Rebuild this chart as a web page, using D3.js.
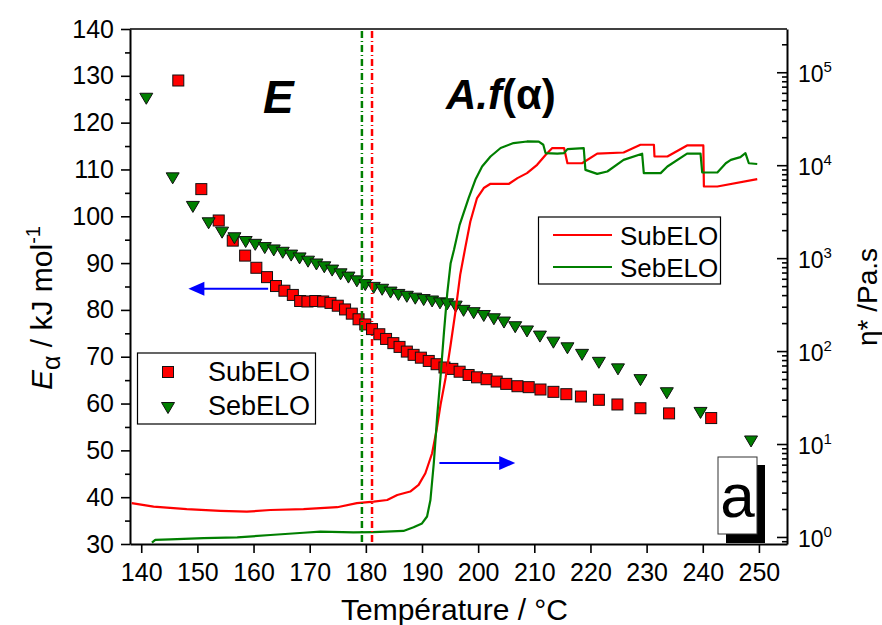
<!DOCTYPE html>
<html><head><meta charset="utf-8">
<script src="https://cdn.jsdelivr.net/npm/d3@7"></script>
<style>body{margin:0;background:#fff}svg{display:block;font-family:Arial,"Liberation Sans",sans-serif}</style>
</head><body><svg id="c" width="882" height="625"></svg>
<script>
// ---- data ----
const seriesNames = ["SubELO", "SebELO"];
const subTemp = [146.6,150.7,153.8,156.3,158.5,160.5,162.4,164.0,165.5,167.0,168.3,169.6,171.0,172.4,173.7,175.0,176.3,177.5,178.7,179.9,181.1,182.4,183.6,184.9,186.0,187.3,188.5,189.8,191.2,192.6,194.0,195.4,196.7,198.3,199.8,201.5,203.3,205.0,207.0,209.0,211.1,213.4,215.7,218.3,221.5,224.8,228.9,234.0,241.5];
const subE = [129.0,105.8,99.1,94.8,91.6,89.0,87.0,85.1,84.1,83.2,81.9,81.8,81.9,81.8,81.5,80.9,80.1,79.2,78.0,76.9,75.9,74.8,73.8,72.9,72.1,71.1,70.4,69.8,69.1,68.4,67.7,67.4,66.8,66.1,65.6,65.2,64.7,64.2,63.7,63.5,63.0,62.5,62.0,61.5,60.8,59.8,59.0,57.9,56.9];
const sebTemp = [140.9,145.6,149.2,152.0,154.4,156.6,158.6,160.3,162.0,163.6,165.2,166.7,168.2,169.7,171.2,172.6,174.0,175.5,176.9,178.4,179.9,181.4,182.9,184.4,185.8,187.3,188.8,190.3,191.8,193.2,194.5,196.0,197.4,199.2,201.0,202.8,204.6,206.6,208.7,211.0,213.4,215.9,218.5,221.5,224.9,228.9,233.6,239.6,248.6];
const sebE = [125.1,108.1,102.0,98.5,96.5,95.3,94.5,93.9,93.2,92.7,92.2,91.6,91.0,90.3,89.7,89.1,88.4,87.6,86.9,86.1,85.3,84.7,84.3,83.7,83.2,82.8,82.4,82.1,81.8,81.4,81.2,80.7,79.8,79.3,78.7,78.0,77.3,76.3,75.4,74.3,73.0,71.8,70.4,68.7,67.3,65.0,62.2,58.0,51.9];
const subViscT = [138.3,142.2,148.1,154.1,158.8,163.0,168.9,174.9,178.4,181.4,183.8,185.6,187.9,189.4,190.6,191.8,192.6,193.3,194.2,195.1,196.0,196.8,197.7,198.6,199.8,201.0,202.2,205.5,207.0,208.7,210.5,212.0,213.2,215.3,215.9,218.5,221.2,225.9,228.9,231.3,231.4,233.7,237.2,240.1,240.2,242.6,249.7];
const subVisc = [2.31,2.12,1.99,1.91,1.87,1.95,1.99,2.09,2.31,2.40,2.50,2.83,3.08,3.63,4.85,7.96,14.2,26.4,51.4,117,277,661,1290,2460,4430,5680,6310,6310,7260,8220,10100,12900,15300,15300,10500,10500,13300,13700,16600,16600,12400,12400,16300,16300,5900,5900,7080];
const sebViscT = [141.9,142.5,145.2,151.1,157.1,163.0,168.9,171.9,177.8,181.4,186.7,188.5,190.0,190.9,191.5,192.1,192.7,193.3,193.9,194.5,195.1,195.7,196.7,198.3,199.5,200.7,202.2,204.0,206.3,208.7,210.8,211.6,212.0,214.1,215.3,215.9,218.8,219.1,221.2,223.0,225.9,229.2,229.5,232.5,233.7,237.2,239.6,239.9,242.6,244.1,245.0,246.7,247.6,248.2,249.7];
const sebVisc = [0.87,0.93,0.94,0.97,0.99,1.05,1.11,1.14,1.12,1.13,1.16,1.27,1.40,1.66,2.50,6.21,19.7,53.2,156,420,883,1230,2280,4430,6970,9680,12400,15300,17300,18000,17900,16600,13500,13300,13500,14900,15300,8910,8070,8550,11400,13300,8220,8220,9680,13300,13300,8340,8340,10500,11400,12200,13500,10500,10300];
const markerTemps = [179.3, 181.1]; // SebELO (green), SubELO (red) dashed lines
const xTicks = [140,150,160,170,180,190,200,210,220,230,240,250];
const yTicks = [30,40,50,60,70,80,90,100,110,120,130,140];
const yMinorTicks = [35,45,55,65,75,85,95,105,115,125,135];
const y2Exponents = [0,1,2,3,4,5];

// ---- layout ----
const L = 130, R = 787, T = 29, B = 544;
const RED = "#ff0000", GREEN = "#007f00", BLUE = "#0000ff";
const svg = d3.select("#c");
const x = d3.scaleLinear().domain([138, 255]).range([L, R]);
const y = d3.scaleLinear().domain([30, 140]).range([B, T]);
const y2 = d3.scaleLog().domain([0.84, 2.92e5]).range([B, T]);

// frame
svg.append("line").attr("x1", L).attr("x2", R).attr("y1", T).attr("y2", T).attr("stroke", "#000").attr("stroke-width", 1.3);

// left axis
const gL = svg.append("g").attr("transform", `translate(${L},0)`)
  .call(d3.axisLeft(y).tickValues(yTicks).tickSize(9).tickPadding(7).tickSizeOuter(0));
svg.append("g").attr("transform", `translate(${L},0)`)
  .call(d3.axisLeft(y).tickValues(yMinorTicks).tickSize(5).tickFormat("").tickSizeOuter(0))
  .select(".domain").remove();
// bottom axis
const gB = svg.append("g").attr("transform", `translate(0,${B})`)
  .call(d3.axisBottom(x).tickValues(xTicks).tickSize(9).tickPadding(10).tickSizeOuter(0));
// right axis
const y2Major = y2Exponents.map(e => Math.pow(10, e));
const y2Minor = [];
for (let e = -1; e <= 5; e++) for (let k = 2; k <= 9; k++) {
  const v = k * Math.pow(10, e);
  if (v >= 0.84 && v <= 2.92e5) y2Minor.push(v);
}
const gR = svg.append("g").attr("transform", `translate(${R},0)`)
  .call(d3.axisRight(y2).tickValues(y2Major).tickSize(-10).tickFormat("").tickSizeOuter(0));
svg.append("g").attr("transform", `translate(${R},0)`)
  .call(d3.axisRight(y2).tickValues(y2Minor).tickSize(-5).tickFormat("").tickSizeOuter(0))
  .select(".domain").remove();

svg.selectAll(".domain").attr("stroke-width", 2);
svg.selectAll(".tick line").attr("stroke-width", 1.6);
gL.selectAll(".tick text").attr("font-size", 25).attr("font-family", "Arial, Liberation Sans, sans-serif").attr("fill", "#000");
gB.selectAll(".tick text").attr("font-size", 25).attr("font-family", "Arial, Liberation Sans, sans-serif").attr("fill", "#000");

// right tick labels 10^n
const r2 = svg.append("g");
y2Exponents.forEach(e => {
  const t = r2.append("text").attr("x", R + 11).attr("y", y2(Math.pow(10, e)) + 10)
    .attr("font-size", 23).attr("fill", "#000");
  t.append("tspan").text("10");
  t.append("tspan").attr("dy", -10).attr("font-size", 15).text(e);
});

// axis titles
svg.append("text").attr("x", (L + R) / 2 - 4).attr("y", 620).attr("text-anchor", "middle")
  .attr("font-size", 30).text("Température / °C");
const lt = svg.append("text").attr("transform", "translate(52,390) rotate(-90)")
  .attr("text-anchor", "start").attr("font-size", 30);
lt.append("tspan").attr("font-style", "italic").text("E");
lt.append("tspan").attr("dy", 8).attr("font-size", 25).text("α");
lt.append("tspan").attr("dy", -8).text(" / kJ mol");
lt.append("tspan").attr("dy", -12).attr("font-size", 20).text("-1");
svg.append("text").attr("transform", "translate(877,297) rotate(-90)")
  .attr("text-anchor", "middle").attr("font-size", 28).text("η* /Pa.s");

// markers
const sq = 11;
svg.append("g").selectAll("rect").data(subTemp.map((t, i) => [t, subE[i]])).join("rect")
  .attr("x", d => x(d[0]) - sq / 2).attr("y", d => y(d[1]) - sq / 2)
  .attr("width", sq).attr("height", sq).attr("fill", RED).attr("stroke", "#111").attr("stroke-width", 1);
const tri = "M-6.5,-5.5L6.5,-5.5L0,5.5Z";
svg.append("g").selectAll("path").data(sebTemp.map((t, i) => [t, sebE[i]])).join("path")
  .attr("d", tri).attr("transform", d => `translate(${x(d[0])},${y(d[1])})`)
  .attr("fill", GREEN).attr("stroke", "#111").attr("stroke-width", 1);

// viscosity lines
const line2 = d3.line().x(d => x(d[0])).y(d => y2(d[1]));
svg.append("path").datum(subViscT.map((t, i) => [t, subVisc[i]])).attr("d", line2)
  .attr("fill", "none").attr("stroke", RED).attr("stroke-width", 2.2).attr("stroke-linejoin", "round");
svg.append("path").datum(sebViscT.map((t, i) => [t, sebVisc[i]])).attr("d", line2)
  .attr("fill", "none").attr("stroke", GREEN).attr("stroke-width", 2.2).attr("stroke-linejoin", "round");

// dashed vertical lines
[[markerTemps[0], GREEN], [markerTemps[1], RED]].forEach(([t, c]) => {
  svg.append("line").attr("x1", x(t)).attr("x2", x(t)).attr("y1", T + 2).attr("y2", B - 2)
    .attr("stroke", c).attr("stroke-width", 2.5).attr("stroke-dasharray", "7,3,1,3");
});

// arrows
function arrow(x1, x2, yy) {
  const dir = Math.sign(x2 - x1);
  svg.append("line").attr("x1", x1).attr("x2", x2 - dir * 12).attr("y1", yy).attr("y2", yy)
    .attr("stroke", BLUE).attr("stroke-width", 2);
  svg.append("path").attr("d", `M${x2},${yy}L${x2 - dir * 16},${yy - 7}L${x2 - dir * 16},${yy + 7}Z`).attr("fill", BLUE);
}
arrow(x(162.6), x(148.4), y(84.5));
arrow(x(193.1), x(206.6), y(47.3));

// big labels
svg.append("text").attr("x", 263).attr("y", 113).attr("font-size", 46).attr("font-weight", "bold")
  .attr("font-style", "italic").text("E");
const af = svg.append("text").attr("x", 446).attr("y", 109).attr("font-size", 42).attr("font-weight", "bold");
af.append("tspan").attr("font-style", "italic").text("A.f");
af.append("tspan").text("(α)");

// legend 1 (markers)
svg.append("rect").attr("x", 137.5).attr("y", 353).attr("width", 178).attr("height", 71)
  .attr("fill", "#fff").attr("stroke", "#000").attr("stroke-width", 1.2);
svg.append("rect").attr("x", 168 - sq / 2).attr("y", 372 - sq / 2).attr("width", sq).attr("height", sq)
  .attr("fill", RED).attr("stroke", "#111");
svg.append("path").attr("d", tri).attr("transform", "translate(168,408)").attr("fill", GREEN).attr("stroke", "#111");
svg.append("text").attr("x", 208).attr("y", 381).attr("font-size", 27).text(seriesNames[0]);
svg.append("text").attr("x", 208).attr("y", 415).attr("font-size", 27).text(seriesNames[1]);

// legend 2 (lines)
svg.append("rect").attr("x", 538.5).attr("y", 217).attr("width", 182).attr("height", 67)
  .attr("fill", "#fff").attr("stroke", "#000").attr("stroke-width", 1.2);
svg.append("line").attr("x1", 553).attr("x2", 612).attr("y1", 235).attr("y2", 235).attr("stroke", RED).attr("stroke-width", 2.2);
svg.append("line").attr("x1", 553).attr("x2", 612).attr("y1", 267).attr("y2", 267).attr("stroke", GREEN).attr("stroke-width", 2.2);
svg.append("text").attr("x", 620).attr("y", 245).attr("font-size", 26).text(seriesNames[0]);
svg.append("text").attr("x", 620).attr("y", 277).attr("font-size", 26).text(seriesNames[1]);

// panel label "a"
svg.append("rect").attr("x", 726).attr("y", 465).attr("width", 39).attr("height", 78).attr("fill", "#000");
svg.append("rect").attr("x", 718).attr("y", 457).attr("width", 39).attr("height", 77)
  .attr("fill", "#fff").attr("stroke", "#333").attr("stroke-width", 1);
svg.append("text").attr("x", 737.5).attr("y", 517).attr("text-anchor", "middle").attr("font-size", 62).text("a");
</script></body></html>
